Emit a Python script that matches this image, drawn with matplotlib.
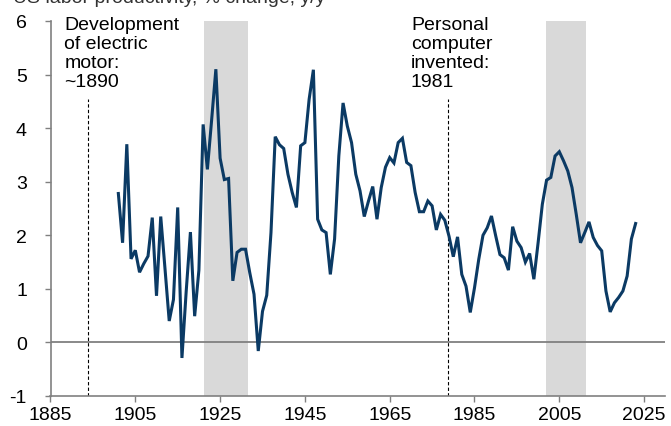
import matplotlib
matplotlib.use("Agg")
import matplotlib.pyplot as plt

plt.rcParams['font.family'] = ['Liberation Sans', 'DejaVu Sans']
plt.rcParams['axes.unicode_minus'] = False

years = list(range(1901, 2024))
productivity = [
    2.78, 1.86, 3.70, 1.56, 1.72, 1.31, 1.47, 1.61, 2.33, 0.87,   # 1901-1910
    2.35, 1.38, 0.40, 0.80, 2.52, -0.29, 0.95, 2.06, 0.49, 1.35,  # 1911-1920
    4.07, 3.23, 4.15, 5.10, 3.44, 3.04, 3.06, 1.15, 1.68, 1.74,   # 1921-1930
    1.74, 1.30, 0.90, -0.16, 0.58, 0.88, 2.05, 3.84, 3.69, 3.62,  # 1931-1940
    3.14, 2.80, 2.52, 3.67, 3.73, 4.54, 5.09, 2.30, 2.10, 2.05,   # 1941-1950
    1.27, 1.93, 3.48, 4.47, 4.04, 3.73, 3.14, 2.83, 2.35, 2.64,   # 1951-1960
    2.91, 2.30, 2.89, 3.27, 3.45, 3.35, 3.73, 3.81, 3.36, 3.30,   # 1961-1970
    2.80, 2.44, 2.44, 2.64, 2.55, 2.10, 2.39, 2.28, 1.98, 1.60,   # 1971-1980
    1.97, 1.27, 1.05, 0.56, 1.02, 1.55, 2.00, 2.14, 2.36, 1.99,   # 1981-1990
    1.64, 1.58, 1.35, 2.16, 1.89, 1.77, 1.50, 1.66, 1.18, 1.86,   # 1991-2000
    2.58, 3.03, 3.08, 3.48, 3.56, 3.39, 3.20, 2.89, 2.39, 1.86,   # 2001-2010
    2.05, 2.25, 1.96, 1.81, 1.71, 0.96, 0.57, 0.74, 0.84, 0.96,   # 2011-2020
    1.24, 1.93, 2.22,                                             # 2021-2023
]

shaded_periods = [(1921.2, 1931.5), (2001.9, 2011.4)]
event_lines = [1893.8, 1978.8]
event_labels = ["Development\nof electric\nmotor:\n~1890", "Personal\ncomputer\ninvented:\n1981"]
event_label_x = [1888.3, 1970.0]

x_ticks = list(range(1885, 2026, 20))
y_ticks = list(range(-1, 7))
title = "US labor productivity, % change, y/y"

W, H = 671, 427
fig = plt.figure(figsize=(W / 100, H / 100), dpi=100)
ax = fig.add_axes([50.5 / W, 30 / H, 614.8 / W, 375 / H])

grey = '#808080'
for a, b in shaded_periods:
    ax.axvspan(a, b, color='#d9d9d9', lw=0, zorder=0)

ax.axhline(0, color=grey, lw=1.3, zorder=1)

for xv in event_lines:
    ax.vlines(xv, -1, 4.55, colors='black', linestyles=(0, (3, 2)), lw=0.8, zorder=2)

ax.plot(years, productivity, color='#0b3a64', lw=2.2, zorder=3, solid_joinstyle='miter')

for xl, txt in zip(event_label_x, event_labels):
    ax.text(xl, 6.10, txt, ha='left', va='top', fontsize=14, color='black',
            linespacing=1.17, zorder=4)

ax.set_xlim(1885, 2030)
ax.set_ylim(-1, 6)
ax.set_xticks(x_ticks)
ax.set_yticks(y_ticks)
ax.tick_params(axis='both', direction='out', length=4, width=1.0, color=grey,
               labelsize=14, labelcolor='black')
ax.tick_params(axis='y', pad=13)
ax.tick_params(axis='x', pad=3)

for s in ['top', 'right']:
    ax.spines[s].set_visible(False)
for s in ['left', 'bottom']:
    ax.spines[s].set_color(grey)
    ax.spines[s].set_linewidth(1.2)

fig.text(13 / W, 1 - 3 / H, title, ha='left', va='baseline', fontsize=14, color='#333333')

fig.savefig('out.png', dpi=100)
